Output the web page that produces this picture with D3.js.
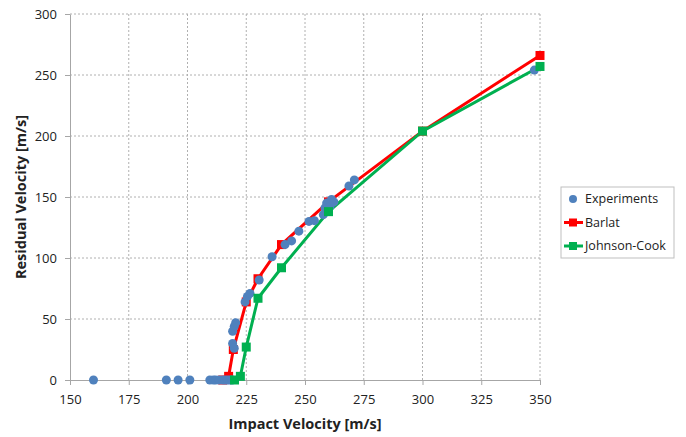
<!DOCTYPE html>
<html>
<head>
<meta charset="utf-8">
<script src="https://cdn.jsdelivr.net/npm/d3@7"></script>
<style>
    body { margin: 0; background: #fff; }
    .chart text { font-family: 'Open Sans', 'Liberation Sans', sans-serif; fill: #222; }
    .grid line { stroke: #b0b0b0; stroke-dasharray: 2,2; }
    .axis path, .axis line { stroke: #a6a6a6; }
</style>
</head>
<body>
<svg class="chart"></svg>
<script>
// data
var xTicks = [150, 175, 200, 225, 250, 275, 300, 325, 350];
var yTicks = [0, 50, 100, 150, 200, 250, 300];

var expX = [160, 191, 196, 201, 209.5, 211, 212, 213.5, 215, 216, 217, 218, 219,
    219.2, 219.9, 219.2, 219.9, 220.5, 224.5, 225.5, 226.6, 230.5, 236, 241.5, 244.3,
    247.4, 251.7, 254, 257.8, 258.5, 259.2, 260.6, 261.3, 262.3, 268.7, 271, 347.6];
var expY = [0, 0, 0, 0, 0, 0, 0, 0, 0, 0, 0, 0, 0,
    30, 26, 40, 44, 47, 64, 68.5, 71, 82, 101, 111, 114,
    122, 130, 130.6, 135.5, 141, 145, 142, 148, 146, 159, 164, 254];

var barlatX = [215, 217.5, 219.5, 225, 230, 240, 260, 300, 350];
var barlatY = [0, 3, 25, 64, 83, 111, 146, 204, 266];

var jcX = [220, 222.5, 225, 230, 240, 260, 300, 350];
var jcY = [0, 3, 27, 67, 92, 138, 204, 257];

(function () {
    var width = 686, height = 437;
    var left = 70, right = 540, top = 14, bottom = 380;

    var svg = d3.select('.chart').attr('width', width).attr('height', height);

    var x = d3.scaleLinear().domain([150, 350]).range([left, right]);
    var y = d3.scaleLinear().domain([0, 300]).range([bottom, top]);

    // dotted grid
    svg.append('g').attr('class', 'grid')
        .selectAll('line').data(xTicks.slice(1)).enter().append('line')
            .attr('x1', function (d) { return x(d); }).attr('x2', function (d) { return x(d); })
            .attr('y1', top).attr('y2', bottom);
    svg.append('g').attr('class', 'grid')
        .selectAll('line').data(yTicks.slice(1)).enter().append('line')
            .attr('x1', left).attr('x2', right)
            .attr('y1', function (d) { return y(d); }).attr('y2', function (d) { return y(d); });

    // axes
    var xAxis = svg.append('g').attr('class', 'axis')
        .attr('transform', 'translate(0,' + bottom + ')')
        .call(d3.axisBottom(x).tickValues(xTicks).tickSize(5).tickSizeOuter(0));
    xAxis.selectAll('text').attr('dy', '1.25em').style('font-size', '13px');

    var yAxis = svg.append('g').attr('class', 'axis')
        .attr('transform', 'translate(' + left + ',0)')
        .call(d3.axisLeft(y).tickValues(yTicks).tickSize(5).tickSizeOuter(0));
    yAxis.selectAll('text').attr('x', -13).style('font-size', '13px');

    // axis titles
    svg.append('text')
        .attr('x', (left + right) / 2).attr('y', 429)
        .attr('text-anchor', 'middle')
        .style('font-size', '14.5px').style('font-weight', 'bold')
        .text('Impact Velocity [m/s]');
    svg.append('text')
        .attr('transform', 'translate(26,' + (top + bottom) / 2 + ') rotate(-90)')
        .attr('text-anchor', 'middle')
        .style('font-size', '14.5px').style('font-weight', 'bold')
        .text('Residual Velocity [m/s]');

    var line = d3.line()
        .x(function (d) { return x(d[0]); })
        .y(function (d) { return y(d[1]); });

    var barlat = d3.zip(barlatX, barlatY);
    var jc = d3.zip(jcX, jcY);
    var exp = d3.zip(expX, expY);

    // lines first, markers on top
    svg.append('path').datum(barlat).attr('d', line)
        .attr('fill', 'none').attr('stroke', '#ff0000').attr('stroke-width', 3);
    svg.append('path').datum(jc).attr('d', line)
        .attr('fill', 'none').attr('stroke', '#00b050').attr('stroke-width', 3);

    function squares(data, color) {
        svg.append('g').selectAll('rect').data(data).enter().append('rect')
            .attr('x', function (d) { return x(d[0]) - 4.5; })
            .attr('y', function (d) { return y(d[1]) - 4.5; })
            .attr('width', 9).attr('height', 9).attr('fill', color);
    }
    squares(barlat, '#ff0000');

    svg.append('g').selectAll('circle').data(exp).enter().append('circle')
        .attr('cx', function (d) { return x(d[0]); })
        .attr('cy', function (d) { return y(d[1]); })
        .attr('r', 4.5).attr('fill', '#4f81bd');

    squares(jc, '#00b050');

    // legend
    var legend = svg.append('g').attr('transform', 'translate(561,187)');
    legend.append('rect').attr('width', 113).attr('height', 71)
        .attr('fill', '#fff').attr('stroke', '#bfbfbf');
    var items = [
        { name: 'Experiments', color: '#4f81bd', type: 'dot' },
        { name: 'Barlat', color: '#ff0000', type: 'sq' },
        { name: 'Johnson-Cook', color: '#00b050', type: 'sq' }
    ];
    items.forEach(function (it, i) {
        var cy = 12 + i * 23.5;
        var g = legend.append('g').attr('transform', 'translate(0,' + cy + ')');
        if (it.type === 'dot') {
            g.append('circle').attr('cx', 12).attr('cy', 0).attr('r', 4).attr('fill', it.color);
        } else {
            g.append('line').attr('x1', 3).attr('x2', 22).attr('stroke', it.color).attr('stroke-width', 3);
            g.append('rect').attr('x', 8).attr('y', -4).attr('width', 8).attr('height', 8).attr('fill', it.color);
        }
        g.append('text').attr('x', 24).attr('dy', '0.35em')
            .style('font-size', '12.5px').text(it.name);
    });
}());
</script>
</body>
</html>
